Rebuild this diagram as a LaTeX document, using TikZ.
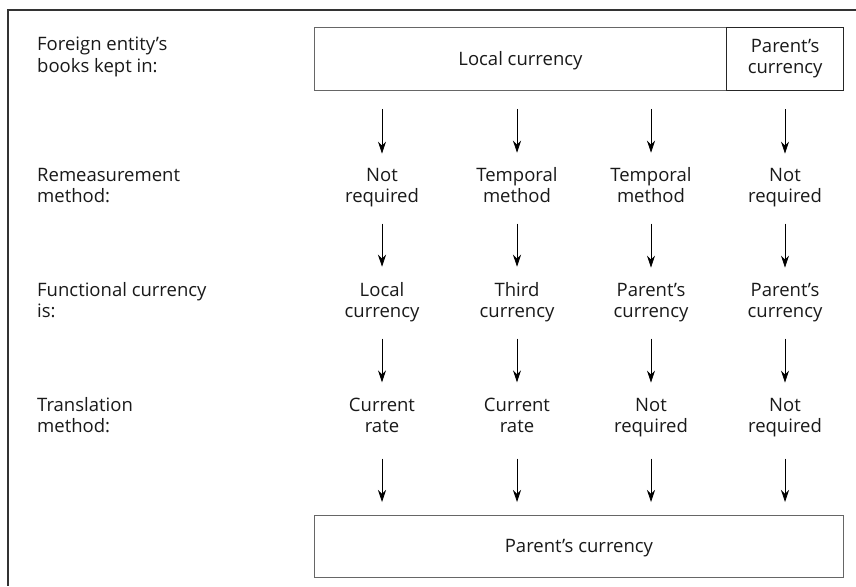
\documentclass[tikz,border=0pt]{standalone}
\usepackage{fontspec}
\setmainfont{Open Sans}
\usetikzlibrary{arrows.meta,positioning}

\begin{document}
\begin{tikzpicture}[x=1pt, y=-1pt,
    every node/.style={text=black!90, font=\fontsize{18.5}{21}\selectfont},
    lbl/.style={align=left, inner sep=0pt, anchor=base west},
    cell/.style={align=center, inner sep=0pt, anchor=base,
        execute at begin node=\strut, execute at end node=\strut},
    box/.style={cell, draw=black!60, line width=0.9pt, anchor=north west,
        execute at begin node={\rule{0pt}{18.7pt}}},
    arrow/.style={-{Stealth[length=12pt, width=8pt]}, line width=0.8pt,
        shorten <=15pt, shorten >=15pt}
]
    \useasboundingbox (0,0) rectangle (856,586);

    % Frame
    \draw[black!80, line width=1.3pt] (856,10) -| (8,586);

    % Row labels
    \node[lbl] (books)  at (37,72)  {Foreign entity's\\books kept in:};
    \node[lbl] (remeas) at (37,202) {Remeasurement\\method:};
    \node[lbl] (func)   at (37,317) {Functional currency\\is:};
    \node[lbl] (trans)  at (37,432) {Translation\\method:};

    % Books kept in
    \node[box, minimum width=412pt, minimum height=63pt] (local) at (314,27) {Local currency};
    \node[box, draw=black!85, line width=1.3pt, minimum width=117pt, minimum height=63pt]
        (parent) at (726,27) {Parent's\\currency};

    % Remeasurement
    \node[cell] (rm1) at (382,202) {Not\\required};
    \node[cell] (rm2) at (517,202) {Temporal\\method};
    \node[cell] (rm3) at (651,202) {Temporal\\method};
    \node[cell] (rm4) at (785,202) {Not\\required};

    % Functional currency
    \node[cell] (fc1) at (382,317) {Local\\currency};
    \node[cell] (fc2) at (517,317) {Third\\currency};
    \node[cell] (fc3) at (651,317) {Parent's\\currency};
    \node[cell] (fc4) at (785,317) {Parent's\\currency};

    % Translation
    \node[cell] (tr1) at (382,432) {Current\\rate};
    \node[cell] (tr2) at (517,432) {Current\\rate};
    \node[cell] (tr3) at (651,432) {Not\\required};
    \node[cell] (tr4) at (785,432) {Not\\required};

    % Reporting currency
    \node[box, minimum width=529pt, minimum height=62pt] (target) at (314,515) {Parent's currency};

    % Arrows
    \foreach \i in {1,2,3}
        \draw[arrow, shorten <=18pt, shorten >=14pt] (local.south -| rm\i) -- (rm\i);
    \draw[arrow, shorten <=18pt, shorten >=14pt] (parent.south -| rm4) -- (rm4);
    \foreach \i in {1,...,4} {
        \draw[arrow] (rm\i) -- (fc\i);
        \draw[arrow] (fc\i) -- (tr\i);
        \draw[arrow, shorten <=20pt, shorten >=13pt] (tr\i) -- (tr\i |- target.north);
    }
\end{tikzpicture}
\end{document}
